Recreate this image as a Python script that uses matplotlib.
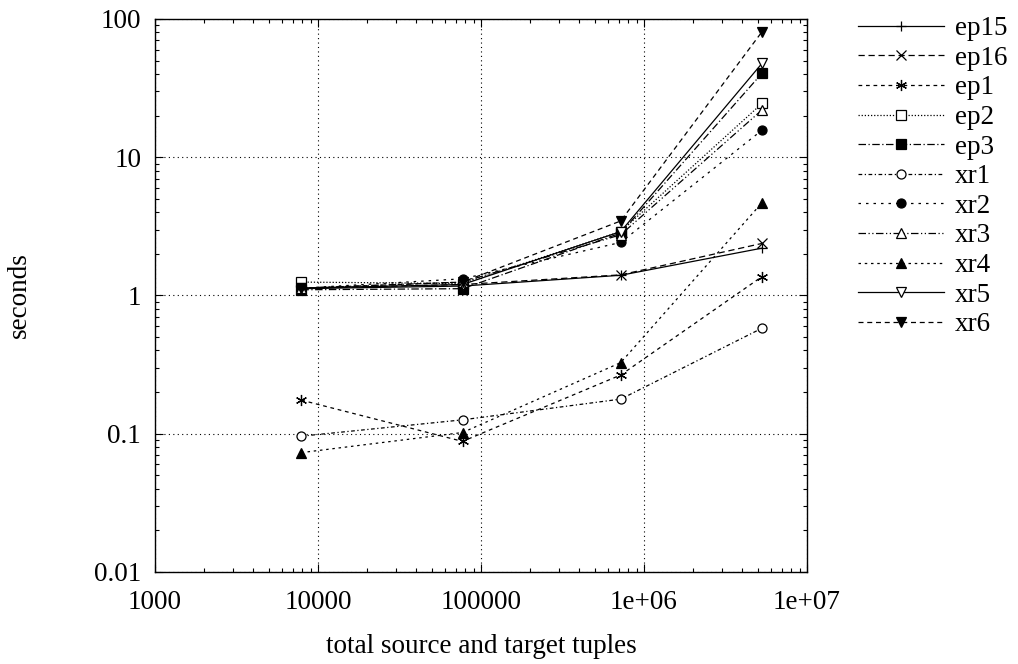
import numpy as np
import matplotlib
matplotlib.use('Agg')
import matplotlib.pyplot as plt

# total source and target tuples per run
tuples = [7900, 77000, 720000, 5300000]

# seconds per series
ep15 = [1.12, 1.17, 1.40, 2.20]
ep16 = [1.13, 1.20, 1.41, 2.38]
ep1 = [0.175, 0.088, 0.266, 1.37]
ep2 = [1.25, 1.22, 2.90, 24.5]
ep3 = [1.10, 1.12, 2.83, 40.5]
xr1 = [0.096, 0.126, 0.178, 0.58]
xr2 = [1.13, 1.32, 2.42, 15.7]
xr3 = [1.13, 1.25, 2.75, 22.0]
xr4 = [0.073, 0.102, 0.327, 4.69]
xr5 = [1.13, 1.20, 2.90, 47.8]
xr6 = [1.13, 1.25, 3.46, 80.9]

names = ['ep15', 'ep16', 'ep1', 'ep2', 'ep3', 'xr1', 'xr2', 'xr3', 'xr4', 'xr5', 'xr6']
series = [ep15, ep16, ep1, ep2, ep3, xr1, xr2, xr3, xr4, xr5, xr6]

x_ticks = [1e3, 1e4, 1e5, 1e6, 1e7]
x_labels = ['1000', '10000', '100000', '1e+06', '1e+07']
y_ticks = [0.01, 0.1, 1, 10, 100]
y_labels = ['0.01', '0.1', '1', '10', '100']

# gnuplot-ish styles: (linestyle, marker, filled)
styles = [
    ('-', '+', False),
    ((0, (5, 3)), 'x', False),
    ((0, (3, 3)), (6, 2, 0), False),
    ((0, (1, 1.5)), 's', False),
    ((0, (6, 2, 1, 2)), 's', True),
    ((0, (3, 2, 1, 2)), 'o', False),
    ((0, (2, 4)), 'o', True),
    ((0, (6, 2, 1, 2, 1, 2)), '^', False),
    ((0, (2, 3)), '^', True),
    ('-', 'v', False),
    ((0, (4, 3)), 'v', True),
]

plt.rcParams['font.family'] = ['Liberation Serif', 'DejaVu Serif']
plt.rcParams['font.size'] = 19.5

fig = plt.figure(figsize=(10.18, 6.64), dpi=100)
ax = fig.add_axes([0.1523, 0.1386, 0.6404, 0.8328])

for name, vals, (ls, mk, filled) in zip(names, series, styles):
    ax.plot(tuples, vals, color='black', linestyle=ls, linewidth=0.9,
            marker=mk, markersize=8 if mk == (6, 2, 0) else 6.5,
            markerfacecolor='black' if filled else 'white',
            markeredgecolor='black', markeredgewidth=0.9, label=name)

ax.set_xscale('log')
ax.set_yscale('log')
ax.set_xlim(1e3, 1e7)
ax.set_ylim(0.01, 100)
ax.set_xticks(x_ticks, x_labels)
ax.set_yticks(y_ticks, y_labels)
ax.tick_params(which='both', direction='in', top=True, right=True)
ax.tick_params(which='major', length=6, width=0.8)
ax.tick_params(axis='x', which='major', pad=13)
ax.tick_params(axis='y', which='major', pad=10)
ax.tick_params(which='minor', length=3, width=0.8)
ax.grid(True, which='major', color='black', linestyle=(0, (1, 3)), linewidth=0.8)
for s in ax.spines.values():
    s.set_linewidth(1.0)

ax.set_xlabel('total source and target tuples', labelpad=14)
ax.set_ylabel('seconds', labelpad=45)

ax.legend(loc='upper left', bbox_to_anchor=(1.078, 1.005), frameon=False,
          handlelength=3.2, handletextpad=0.37, labelspacing=0.17,
          numpoints=1, borderaxespad=0.0, borderpad=0.0)

fig.savefig('out.png', dpi=100)
